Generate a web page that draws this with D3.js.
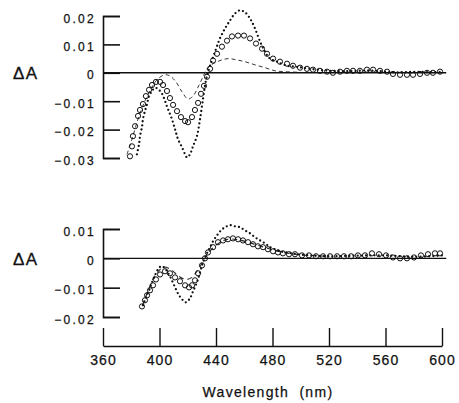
<!DOCTYPE html>
<html>
<head>
<meta charset="utf-8">
<script src="https://cdn.jsdelivr.net/npm/d3@7/dist/d3.min.js"></script>
<style>
  body { margin: 0; background: #fff; }
  svg { display: block; }
  text { font-family: "Liberation Sans", Arial, sans-serif; fill: #111; }
</style>
</head>
<body>
<script>
// wavelength ticks
let xTicks = [360, 400, 440, 480, 520, 560, 600]
let topYTicks = [0.02, 0.01, 0, -0.01, -0.02, -0.03]
let botYTicks = [0.01, 0, -0.01, -0.02]

// upper panel: [nm, dA]
let topDots = [[384,-0.0287],[385.5,-0.0252],[386.2,-0.0223],[387.6,-0.0191],[388.3,-0.0163],[389.7,-0.0135],[391.2,-0.011],[392.6,-0.0082],[394.7,-0.0064],[396.8,-0.0053],[398.9,-0.0057],[401.8,-0.0074],[403.9,-0.0099],[406,-0.0128],[408.8,-0.0163],[411,-0.0199],[413.1,-0.0234],[415.9,-0.0262],[418.1,-0.0287],[419.5,-0.0298],[421.6,-0.0287],[423.7,-0.0259],[426.5,-0.0223],[428.7,-0.0163],[430.8,-0.0092],[432.2,-0.0046],[433.6,-0.0011],[435.8,0.0025],[439.3,0.0074],[442.8,0.0121],[446.4,0.0156],[449.9,0.0184],[453.5,0.0209],[457,0.022],[460.5,0.0213],[464.1,0.0191],[467.6,0.0156],[471.2,0.011],[474.7,0.0074],[478.2,0.005],[483.2,0.0039],[490.3,0.0025],[497.3,0.0021],[506.5,0.0014],[520.7,0.0007],[535,0.0006],[550,0.0008],[565,0.0002],[580,0.0003],[600,0.0002]]

let topCircles = [[379.1,-0.0294],[380.5,-0.0259],[381.2,-0.0223],[382.7,-0.0188],[384.8,-0.0152],[386.2,-0.0131],[388.3,-0.011],[390.4,-0.0082],[392.6,-0.006],[394.7,-0.0043],[397.5,-0.0032],[400.4,-0.0032],[402.5,-0.0043],[405.3,-0.0064],[407.4,-0.0089],[409.6,-0.0113],[412.4,-0.0135],[415.2,-0.0156],[418.1,-0.017],[420.2,-0.0174],[423,-0.0156],[425.1,-0.0131],[427.3,-0.0106],[429.4,-0.0074],[431.5,-0.0046],[433.6,-0.0014],[435.8,0.0014],[437.9,0.0043],[440.7,0.0067],[444.2,0.0092],[447.8,0.0113],[451.3,0.0128],[455.6,0.0131],[459.8,0.0131],[464.1,0.0121],[468.3,0.0103],[472.6,0.0085],[476.1,0.0067],[480.4,0.005],[485.3,0.0039],[490.3,0.0032],[494.5,0.0025],[499.5,0.0018],[504.4,0.0014],[508.7,0.0011],[513.6,0.0007],[518.6,0.0004],[522.8,0],[527.8,0.0004],[532.7,0.0007],[537,0.0007],[541.9,0.0007],[546.9,0.0011],[551.2,0.0011],[556.1,0.0007],[561.1,0.0004],[565.3,-0.0004],[570.3,-0.0007],[575.2,-0.0007],[579.5,-0.0007],[584.4,-0.0004],[589.4,0],[593.6,0],[598.6,0.0004]]

let topDashed = [[377,-0.0287],[380.5,-0.0234],[384.8,-0.0163],[389.7,-0.0099],[394.7,-0.005],[398.9,-0.0021],[403.9,-0.0007],[407.4,-0.0011],[411.7,-0.0032],[415.9,-0.0067],[420.2,-0.0092],[423.7,-0.0082],[427.3,-0.005],[430.8,-0.0014],[433.6,0.0014],[437.9,0.0032],[442.8,0.0043],[448.5,0.005],[454.2,0.0046],[460.5,0.0039],[467.6,0.0028],[474.7,0.0018],[481.8,0.0007],[488.9,0.0004],[498,0.0002]]

// lower panel: [nm, dA]
let botDots = [[388.3,-0.016],[390.4,-0.0133],[392.6,-0.0109],[394.7,-0.0082],[396.8,-0.0058],[398.9,-0.0038],[401.1,-0.0027],[403.2,-0.0031],[405.3,-0.0044],[408.1,-0.0068],[411,-0.0099],[413.8,-0.0126],[416.6,-0.0143],[418.8,-0.015],[421.6,-0.0136],[423.7,-0.0113],[426.5,-0.0082],[428.7,-0.0048],[430.8,-0.0014],[433.6,0.0017],[435.8,0.0038],[437.9,0.0058],[440.7,0.0078],[443.5,0.0095],[446.4,0.0106],[449.9,0.0113],[453.5,0.0109],[457,0.0106],[460.5,0.0095],[464.1,0.0085],[467.6,0.0072],[471.2,0.0061],[474.7,0.0051],[478.2,0.0038],[481.8,0.0031],[485.3,0.0024],[490.3,0.002],[497.3,0.0014],[506.5,0.001],[520,0.0007],[540,0.0009],[560,0.001],[580,0.0005],[600,0.001]]

let botCircles = [[387.6,-0.0164],[389.7,-0.0143],[391.2,-0.0126],[393.3,-0.0109],[395.4,-0.0092],[397.5,-0.0072],[400.4,-0.0055],[403.9,-0.0044],[407.4,-0.0051],[411,-0.0065],[414.5,-0.0078],[418.1,-0.0092],[420.9,-0.0099],[423,-0.0092],[425.1,-0.0075],[427.3,-0.0051],[430.1,-0.0024],[432.2,0],[434.3,0.002],[437.9,0.0038],[441.4,0.0055],[445,0.0061],[448.5,0.0065],[452,0.0068],[455.6,0.0065],[459.1,0.0061],[462.7,0.0055],[466.2,0.0048],[469.7,0.0041],[473.3,0.0038],[476.8,0.0031],[480.4,0.0024],[483.9,0.002],[487.4,0.0017],[491.7,0.0014],[495.9,0.0014],[500.9,0.001],[505.8,0.001],[510.8,0.0007],[515.8,0.0007],[520.7,0.0007],[525.7,0.0007],[530.6,0.0007],[535.6,0.0007],[540.5,0.001],[545.5,0.001],[550.4,0.0017],[555.4,0.0014],[560.4,0.001],[565.3,0.0003],[570.3,0],[575.2,0],[580.2,0.0003],[585.1,0.001],[590.1,0.0014],[595,0.0017],[598.6,0.0017]]

let botDashed = [[388,-0.016],[392,-0.011],[396,-0.0065],[400,-0.004],[403,-0.003],[407,-0.0035],[411,-0.005],[415,-0.0065],[419,-0.0072],[423,-0.0065],[427,-0.004],[431,-0.001],[435,0.002],[440,0.0045],[445,0.006],[450,0.0066],[456,0.0063],[462,0.0056],[468,0.0047],[475,0.0036],[482,0.0026],[490,0.0018],[500,0.0012],[510,0.0009],[520,0.0007]]


const W = 459, H = 403

const svg = d3.select("body").append("svg")
    .attr("width", W)
    .attr("height", H)

const x = d3.scaleLinear().domain([360, 600]).range([103, 442])
const yTop = d3.scaleLinear().domain([-0.03, 0.02]).range([158, 16])
const yBot = d3.scaleLinear().domain([-0.02, 0.01]).range([317, 229])

const fmt = (d) => d === 0 ? "0" : d3.format(".2f")(d)

const drawPanel = (y, ticks, dots, circles, dashed, dashStyle) => {

    // bracket style y axis: ticks point inward
    const ax = svg.append("g")
        .attr("transform", "translate(103,0)")
        .call(d3.axisLeft(y).tickValues(ticks).tickFormat(fmt)
            .tickSize(-17).tickPadding(7))
    ax.select(".domain").attr("stroke", "#111").attr("stroke-width", 1.6)
    ax.selectAll(".tick line").attr("stroke", "#111").attr("stroke-width", 1.6)
    ax.selectAll(".tick text")
        .attr("dy", "0.5em")
        .style("font-size", "12px")
        .style("letter-spacing", "2.3px")
        .attr("fill", "#111")
        .attr("stroke", "#111").attr("stroke-width", 0.25)

    svg.append("text")
        .attr("x", 13)
        .attr("y", y(0) + 6.5)
        .style("font-size", "17px")
        .style("letter-spacing", "1.5px")
        .attr("stroke", "#111").attr("stroke-width", 0.3)
        .text("ΔA")

    // zero line
    svg.append("line")
        .attr("x1", x(360)).attr("x2", x(603))
        .attr("y1", y(0)).attr("y2", y(0))
        .attr("stroke", "#111")
        .attr("stroke-width", 1.4)

    const line = d3.line()
        .x(d => x(d[0]))
        .y(d => y(d[1]))
        .curve(d3.curveCatmullRom)

    svg.append("path")
        .datum(dashed)
        .attr("d", line)
        .attr("fill", "none")
        .attr("stroke", "#222")
        .attr("stroke-width", dashStyle.w)
        .attr("stroke-dasharray", dashStyle.dash)

    svg.append("path")
        .datum(dots)
        .attr("d", line)
        .attr("fill", "none")
        .attr("stroke", "#111")
        .attr("stroke-width", 2.3)
        .attr("stroke-linecap", "round")
        .attr("stroke-dasharray", "0 4.2")

    svg.append("g").selectAll("circle")
        .data(circles)
        .enter().append("circle")
        .attr("cx", d => x(d[0]))
        .attr("cy", d => y(d[1]))
        .attr("r", 2.6)
        .attr("fill", "none")
        .attr("stroke", "#111")
        .attr("stroke-width", 1)
}

drawPanel(yTop, topYTicks, topDots, topCircles, topDashed, { w: 0.9, dash: "4 3" })
drawPanel(yBot, botYTicks, botDots, botCircles, botDashed, { w: 1.1, dash: "5 4" })

// wavelength axis, ticks pointing up
const xa = svg.append("g")
    .attr("transform", "translate(0,346)")
    .call(d3.axisBottom(x).tickValues(xTicks).tickSize(-18).tickSizeOuter(0).tickPadding(9))
xa.select(".domain").attr("stroke", "#111").attr("stroke-width", 1.6)
xa.selectAll(".tick line").attr("stroke", "#111").attr("stroke-width", 1.4)
xa.selectAll(".tick text")
    .style("font-size", "14px")
    .style("letter-spacing", "1px")
    .attr("fill", "#111")
    .attr("stroke", "#111").attr("stroke-width", 0.25)

svg.append("text")
    .attr("x", 268)
    .attr("y", 397)
    .attr("text-anchor", "middle")
    .style("font-size", "14px")
    .style("letter-spacing", "1.3px")
    .style("white-space", "pre")
    .attr("stroke", "#111").attr("stroke-width", 0.25)
    .text("Wavelength  (nm)")
</script>
</body>
</html>
